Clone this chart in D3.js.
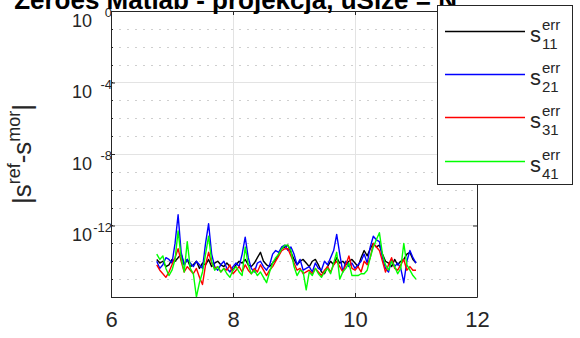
<!DOCTYPE html>
<html>
<head>
<meta charset="utf-8">
<script src="https://cdn.jsdelivr.net/npm/d3@7"></script>
<style>
  html, body { margin: 0; padding: 0; background: #fff; }
  svg { display: block; font-family: "Liberation Sans", Arial, Helvetica, sans-serif; }
</style>
</head>
<body>
<svg id="chart" width="580" height="338"></svg>
<script>
// Frequency grid (GHz) shared by all four error curves
const freqStart = 6.75, freqStep = 0.05, freqCount = 86;
const freq = d3.range(freqCount).map(i => +(freqStart + i * freqStep).toFixed(2));

// log10 of |S_ref - S_mor| for each S-parameter
const s11Log = [
  -13.9, -14.1, -14.0, -14.3, -14.2, -13.9, -14.0, -13.8, -13.6, -14.2,
  -13.9, -14.3, -14.2, -14.0, -14.4, -14.1, -14.2, -13.9, -14.3, -14.1,
  -14.0, -14.2, -14.3, -14.1, -14.3, -14.5, -14.2, -14.0, -14.1, -13.9,
  -14.2, -14.3, -14.1, -13.8, -13.5, -14.0, -14.2, -14.3, -14.1, -13.9,
  -13.6, -13.3, -13.2, -13.1, -13.5, -13.9, -14.2, -14.0, -13.9, -14.1,
  -14.3, -14.0, -13.9, -14.2, -14.6, -14.7, -14.3, -14.0, -14.2, -13.8,
  -14.1, -14.0, -14.2, -14.0, -13.9, -14.1, -14.3, -13.8, -13.4, -13.7,
  -13.3, -13.0, -13.2, -13.1, -13.6, -14.0, -14.1, -14.3, -13.9, -14.2,
  -14.0, -13.9, -13.6, -13.5, -13.9, -14.1
];
const s21Log = [
  -14.0, -14.4, -14.2, -13.8, -13.9, -14.1, -13.0, -11.4, -13.5, -14.2,
  -13.9, -14.1, -14.3, -14.0, -14.2, -14.4, -13.0, -11.9, -13.6, -14.3,
  -14.5, -14.2, -14.0, -14.4, -14.6, -14.3, -14.1, -14.3, -13.6, -12.65,
  -13.8, -14.4, -14.6, -14.1, -14.0, -14.3, -14.5, -14.2, -13.6, -13.4,
  -13.5, -13.2, -13.1, -13.4, -13.2, -13.6, -14.2, -13.9, -14.5, -14.4,
  -14.3, -14.6, -14.1, -14.4, -14.5, -14.0, -14.2, -13.8, -13.4, -12.5,
  -13.6, -14.6, -14.0, -14.3, -14.1, -14.4, -14.2, -14.0, -13.6, -14.1,
  -13.2, -12.6, -12.8, -12.9, -13.8, -14.4, -14.6, -13.9, -14.3, -14.1,
  -14.4, -15.2, -14.0, -13.4, -13.8, -14.1
];
const s31Log = [
  -14.2, -14.5, -14.7, -14.9, -14.6, -14.2, -13.8, -13.3, -14.0, -14.6,
  -14.3, -14.5, -14.7, -14.4, -14.9, -15.3, -14.2, -13.5, -14.1, -14.4,
  -14.3, -14.6, -14.4, -14.5, -14.2, -14.7, -14.5, -14.3, -14.6, -14.2,
  -14.5, -14.7, -14.4, -14.6, -14.2, -14.5, -14.8, -14.5, -14.3, -14.0,
  -13.7, -13.4, -13.3, -13.3, -13.7, -14.1, -14.5, -14.4, -14.7, -14.6,
  -14.5, -14.7, -14.4, -14.6, -14.8, -14.5, -14.3, -14.6, -14.2, -14.0,
  -14.3, -14.6, -14.2, -13.7, -14.4, -14.5, -14.3, -14.6, -14.0, -14.2,
  -13.8, -13.0, -13.2, -13.4, -14.0, -14.6, -14.2, -13.8, -14.4, -14.5,
  -14.2, -13.9, -14.5, -14.3, -14.5, -14.5
];
const s41Log = [
  -13.6, -13.9, -13.7, -14.4, -14.8, -14.5, -13.9, -12.3, -13.8, -14.6,
  -12.9, -14.4, -14.7, -16.0, -15.2, -14.6, -13.6, -12.6, -14.0, -14.5,
  -14.3, -14.6, -14.4, -14.7, -14.9, -14.5, -14.3, -14.6, -14.8, -13.2,
  -14.2, -14.7, -14.5, -14.8, -14.6, -14.9, -15.2, -14.6, -14.1, -13.8,
  -13.6, -13.3, -13.1, -13.1, -13.4, -14.3, -14.8, -14.5, -14.6, -15.6,
  -14.6, -14.8, -14.4, -14.7, -14.9, -14.6, -14.4, -14.7, -14.1, -13.5,
  -15.0, -14.6, -14.4, -14.1, -14.8, -14.8, -14.8, -14.7, -14.7, -14.5,
  -13.8, -13.2, -12.8, -12.4, -13.6, -14.2, -14.5, -14.0, -14.3, -14.7,
  -14.4, -13.0, -14.2, -14.5, -14.8, -15.0
];

const seriesNames = ["11", "21", "31", "41"];
const seriesColors = ["#000000", "#0000ff", "#ff0000", "#00ff00"];
const seriesLogs = [s11Log, s21Log, s31Log, s41Log];

const xTicks = [6, 8, 10, 12];
const yTickExps = [0, -4, -8, -12];
const titleText = "Zeroes Matlab - projekcja, uSize = N";

const svg = d3.select("#chart");
const plot = { left: 111, right: 477, top: 11, bottom: 297 };

const x = d3.scaleLinear().domain([6, 12]).range([plot.left, plot.right]);
const y = d3.scaleLog().domain([1e-16, 1]).range([plot.bottom, plot.top]);

const axisColor = "#262626";
const gridColor = "#e3e3e3";

// Minor grid: dotted line at every decade
const decades = d3.range(-16, 1).map(e => Math.pow(10, e));
svg.append("g").selectAll("line")
  .data(decades.filter(v => !yTickExps.includes(Math.round(Math.log10(v)))))
  .join("line")
  .attr("x1", plot.left).attr("x2", plot.right)
  .attr("y1", d => Math.round(y(d)) + 0.5).attr("y2", d => Math.round(y(d)) + 0.5)
  .attr("stroke", "#cfcfcf").attr("stroke-width", 1)
  .attr("stroke-dasharray", "2,6");

// Major grid
const gMajor = svg.append("g");
gMajor.selectAll("line.v")
  .data(xTicks.slice(1, -1))
  .join("line").attr("class", "v")
  .attr("x1", d => Math.round(x(d)) + 0.5).attr("x2", d => Math.round(x(d)) + 0.5)
  .attr("y1", plot.top).attr("y2", plot.bottom)
  .attr("stroke", gridColor).attr("stroke-width", 1);
gMajor.selectAll("line.h")
  .data(yTickExps.slice(1).map(e => Math.pow(10, e)))
  .join("line").attr("class", "h")
  .attr("x1", plot.left).attr("x2", plot.right)
  .attr("y1", d => Math.round(y(d)) + 0.5).attr("y2", d => Math.round(y(d)) + 0.5)
  .attr("stroke", gridColor).attr("stroke-width", 1);

// Error curves
const line = d3.line()
  .x((d, i) => x(freq[i]))
  .y(d => y(Math.pow(10, d)));
svg.append("g").selectAll("path")
  .data(seriesLogs)
  .join("path")
  .attr("d", d => line(d))
  .attr("fill", "none")
  .attr("stroke", (d, i) => seriesColors[i])
  .attr("stroke-width", 1.4)
  .attr("stroke-linejoin", "round");

// Axes (bottom / left with labels, top / right as box)
const xAxis = d3.axisBottom(x).tickValues(xTicks).tickFormat(d3.format("d"))
  .tickSizeInner(-4).tickSizeOuter(0).tickPadding(14);
const gx = svg.append("g").attr("transform", `translate(0,${plot.bottom})`).call(xAxis);
gx.select(".domain").attr("stroke", axisColor);
gx.selectAll(".tick line").attr("stroke", axisColor);
gx.selectAll(".tick text")
  .attr("fill", axisColor).attr("font-size", 22)
  .attr("font-family", "Liberation Sans, Arial, sans-serif");

const gxTop = svg.append("g").attr("transform", `translate(0,${plot.top})`)
  .call(d3.axisTop(x).tickValues(xTicks).tickSizeInner(-4).tickSizeOuter(0).tickFormat(""));
gxTop.select(".domain").attr("stroke", axisColor);
gxTop.selectAll(".tick line").attr("stroke", axisColor);

const yAxis = d3.axisLeft(y).tickValues(yTickExps.map(e => Math.pow(10, e)))
  .tickSizeInner(-4).tickSizeOuter(0).tickFormat("");
const gy = svg.append("g").attr("transform", `translate(${plot.left},0)`).call(yAxis);
gy.select(".domain").attr("stroke", axisColor);
gy.selectAll(".tick line").attr("stroke", axisColor);

const gyR = svg.append("g").attr("transform", `translate(${plot.right},0)`)
  .call(d3.axisRight(y).tickValues(yTickExps.map(e => Math.pow(10, e))).tickSizeInner(-4).tickSizeOuter(0).tickFormat(""));
gyR.select(".domain").attr("stroke", axisColor);
gyR.selectAll(".tick line").attr("stroke", axisColor);

// Minor ticks at each decade on the log axis
svg.append("g").selectAll("line")
  .data(decades)
  .join("line")
  .attr("x1", plot.left).attr("x2", plot.left + 2)
  .attr("y1", d => Math.round(y(d)) + 0.5).attr("y2", d => Math.round(y(d)) + 0.5)
  .attr("stroke", axisColor);

// Y tick labels: 10 with exponent
const yLab = svg.append("g").selectAll("g")
  .data(yTickExps)
  .join("g")
  .attr("transform", e => `translate(92,${y(Math.pow(10, e))})`);
yLab.append("text")
  .attr("text-anchor", "end")
  .attr("fill", axisColor)
  .each(function (e) {
    const t = d3.select(this);
    t.append("tspan").attr("y", 15.5).attr("font-size", 18).text("10");
    t.append("tspan").attr("y", 6).attr("font-size", 13).text(String(e));
  });

// Y axis label
const yTitle = svg.append("text")
  .attr("transform", `translate(31,${(plot.top + plot.bottom) / 2}) rotate(-90)`)
  .attr("text-anchor", "middle")
  .attr("fill", axisColor)
  .attr("font-size", 26);
yTitle.append("tspan").text("|s");
yTitle.append("tspan").attr("dy", -11).attr("font-size", 18).text("ref");
yTitle.append("tspan").attr("dy", 11).text("-s");
yTitle.append("tspan").attr("dy", -11).attr("font-size", 18).text("mor");
yTitle.append("tspan").attr("dy", 11).text("|");

// Title (runs past the top edge of the page)
svg.append("text")
  .attr("x", 457).attr("y", 9)
  .attr("text-anchor", "end")
  .attr("font-size", 26).attr("font-weight", "bold")
  .attr("fill", "#000")
  .text(titleText);

// Legend
const leg = svg.append("g");
leg.append("rect")
  .attr("x", 437.5).attr("y", 5.5).attr("width", 135).attr("height", 179)
  .attr("fill", "#fff").attr("stroke", axisColor).attr("stroke-width", 1);
const legRows = [31, 74, 117, 161];
const items = leg.selectAll("g.item")
  .data(seriesNames)
  .join("g").attr("class", "item")
  .attr("transform", (d, i) => `translate(0,${legRows[i]})`);
items.append("line")
  .attr("x1", 445).attr("x2", 525).attr("y1", 0.5).attr("y2", 0.5)
  .attr("stroke", (d, i) => seriesColors[i]).attr("stroke-width", 1.4);
items.append("text")
  .attr("x", 530).attr("y", 11).attr("font-size", 22).attr("fill", axisColor).text("s");
items.append("text")
  .attr("x", 542).attr("y", -1).attr("font-size", 15).attr("fill", axisColor).text("err");
items.append("text")
  .attr("x", 542).attr("y", 18).attr("font-size", 15).attr("fill", axisColor).text(d => d);
</script>
</body>
</html>
